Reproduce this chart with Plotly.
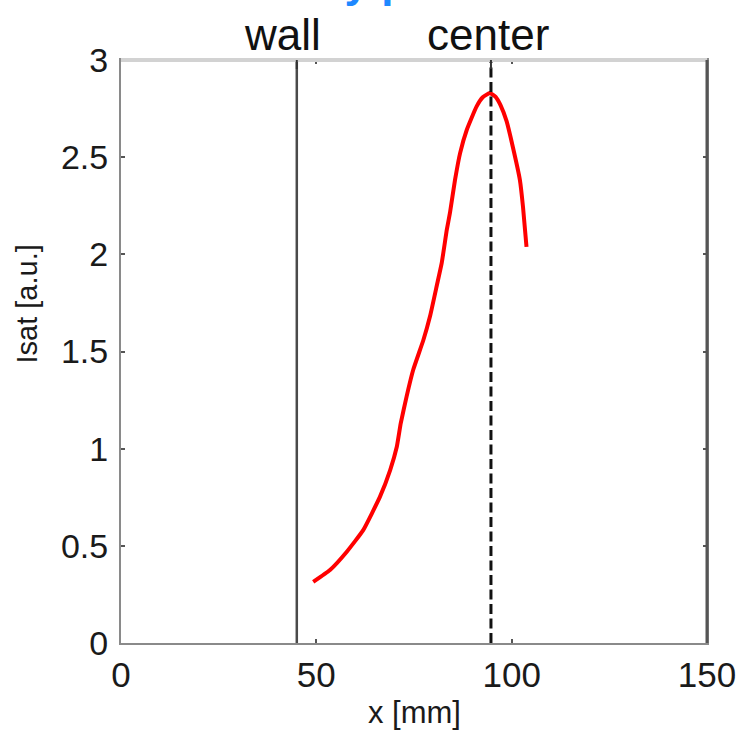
import plotly.graph_objects as go

# ---- data ----
x_mm = [49.2, 53.5, 57.8, 62.0, 66.3, 68.9, 70.6, 71.6, 73.1, 74.8, 77.4, 79.1, 80.8,
        82.1, 83.4, 84.2, 85.5, 86.8, 88.5, 91.0, 92.6, 94.4, 95.9, 97.2, 98.7, 100.3,
        102.1, 102.9, 103.8]
isat = [0.315, 0.376, 0.470, 0.581, 0.753, 0.890, 1.010, 1.130, 1.268, 1.406, 1.559, 1.681, 1.836,
        1.956, 2.127, 2.213, 2.383, 2.521, 2.640, 2.760, 2.808, 2.830, 2.810, 2.765, 2.685, 2.552,
        2.383, 2.244, 2.038]
marker_x = [45.0, 94.7]
marker_labels = ["wall", "center"]
x_ticks = [0, 50, 100, 150]
y_ticks = [0, 0.5, 1, 1.5, 2, 2.5, 3]
y_tick_text = ["0", "0.5", "1", "1.5", "2", "2.5", "3"]
title_text = "Density profile"

FONT = "Liberation Sans, Arial, sans-serif"
PLOT_H = 583.0

fig = go.Figure()
fig.add_trace(go.Scatter(x=x_mm, y=isat, mode="lines",
                         line=dict(color="#ff0000", width=4, shape="spline", smoothing=0.4),
                         showlegend=False, hoverinfo="skip"))

# wall (solid) and center (dashed) vertical lines
fig.add_shape(type="line", xref="x", yref="y", x0=marker_x[0], x1=marker_x[0], y0=0, y1=3,
              line=dict(color="#4a4a4a", width=2.5))
fig.add_shape(type="line", xref="x", yref="y", x0=marker_x[1], x1=marker_x[1], y0=0, y1=3,
              line=dict(color="#111111", width=3, dash="10px,4.5px"))

# frame tweaks: light thick top border, darker right border
fig.add_shape(type="line", xref="paper", yref="paper", x0=0, x1=1, y0=1, y1=1,
              line=dict(color="#d2d2d2", width=4))
fig.add_shape(type="line", xref="paper", yref="paper", x0=1, x1=1, y0=0, y1=1,
              line=dict(color="#555555", width=3))

# top ticks at wall / center
for xv in marker_x:
    fig.add_shape(type="line", xref="x", yref="paper", x0=xv, x1=xv, y0=1, y1=1 - 9 / PLOT_H,
                  line=dict(color="#333333", width=2))

fig.update_layout(
    width=740, height=730,
    margin=dict(l=121, r=33, t=60, b=87, autoexpand=False),
    paper_bgcolor="white", plot_bgcolor="white",
    font=dict(family=FONT, color="#1a1a1a"),
    xaxis=dict(range=[0, 150], tickvals=x_ticks, ticks="inside", ticklen=4,
               tickcolor="#555", tickwidth=1.5, showline=True, linecolor="#8a8a8a",
               linewidth=2, mirror="ticks", showgrid=False, zeroline=False, automargin=False,
               tickfont=dict(size=35, family=FONT, color="#1a1a1a"), ticklabelstandoff=0),
    yaxis=dict(range=[0, 3], tickvals=y_ticks, ticktext=y_tick_text, ticks="inside", ticklen=4,
               tickcolor="#555", tickwidth=1.5, showline=True, linecolor="#8a8a8a",
               linewidth=2, mirror="ticks", showgrid=False, zeroline=False, automargin=False,
               tickfont=dict(size=34, family=FONT, color="#1a1a1a"), ticklabelstandoff=4),
)

# top labels
for xv, lab, dx in zip(marker_x, marker_labels, [-14, -3]):
    fig.add_annotation(x=xv, y=1.043, xref="x", yref="paper", text=lab, showarrow=False,
                       xshift=dx, font=dict(size=44, family=FONT, color="#111"),
                       xanchor="center", yanchor="middle")

# axis titles
fig.add_annotation(x=0.5, y=-0.12, xref="paper", yref="paper", text="x [mm]", showarrow=False,
                   font=dict(size=31, family=FONT, color="#1a1a1a"), xanchor="center", yanchor="middle")
fig.add_annotation(x=-0.160, y=0.581, xref="paper", yref="paper", text="Isat [a.u.]",
                   showarrow=False, textangle=-90,
                   font=dict(size=29, family=FONT, color="#1a1a1a"), xanchor="center", yanchor="middle")

# blue title, cut off by the top edge as in the reference (only descenders visible)
fig.add_annotation(x=(363 - 121) / 586, y=1.134, xref="paper", yref="paper", text=title_text,
                   showarrow=False,
                   font=dict(size=44, family=FONT, color="#1e88ff", weight="bold"),
                   xanchor="center", yanchor="middle")

fig.write_html("out.html")
